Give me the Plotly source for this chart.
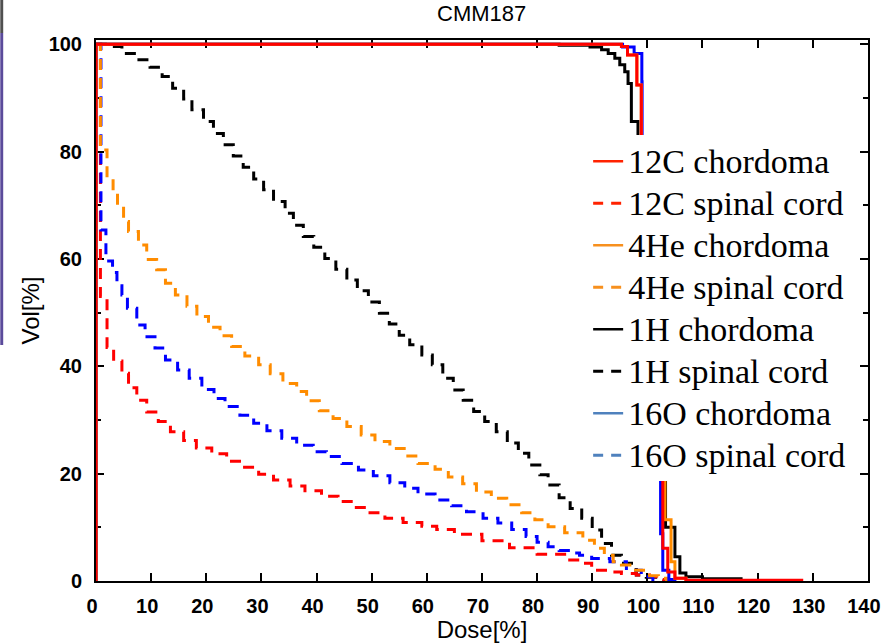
import plotly.graph_objects as go

# ---------------- data ----------------
# 1H spinal cord (black dashed)
dose_1h_sc = [0, 1.7, 4.7, 7.4, 9.8, 12.0, 13.9, 15.9, 17.4, 19.5, 21.3, 23.1, 24.9, 26.7,
              28.6, 30.4, 32.2, 34.3, 35.8, 37.6, 39.5, 41.5, 43.5, 45.5, 47.4, 49.4, 51.4,
              53.2, 55.0, 56.9, 59.1, 61.0, 62.9, 64.8, 66.6, 68.5, 70.5, 72.6, 74.6, 76.6,
              78.5, 80.5, 82.0, 84.0, 86.0, 88.1, 90.0, 91.7, 93.5, 95.3, 98.0, 99.8, 101.5, 103.0]
vol_1h_sc = [100, 99.6, 98.3, 97.1, 95.7, 94.0, 91.8, 89.8, 87.8, 85.6, 83.4, 81.3, 79.2, 77.1,
             74.9, 72.9, 70.7, 68.5, 66.3, 64.2, 62.2, 60.1, 58.1, 56.1, 54.1, 52.0, 49.9,
             47.9, 45.8, 44.0, 42.1, 40.3, 37.8, 35.6, 33.7, 31.6, 29.7, 27.8, 25.7, 23.8,
             21.6, 19.8, 17.9, 15.5, 13.5, 11.7, 9.5, 7.0, 4.8, 3.3, 1.1, 0.7, 0.3, 0]

# 4He spinal cord (orange dashed)
dose_4he_sc = [0, 0.8, 2.0, 3.1, 3.9, 5.0, 5.9, 7.7, 9.2, 11.0, 12.6, 14.4, 16.5, 18.3, 20.4,
               22.5, 24.6, 27.0, 29.5, 31.6, 33.9, 36.4, 38.2, 40.5, 43.0, 45.5, 48.1, 50.6,
               53.3, 55.9, 58.4, 61.5, 63.9, 66.5, 69.0, 71.7, 74.5, 77.2, 79.6, 82.0, 85.0,
               88.3, 90.4, 92.2, 93.8, 95.3, 97.4, 100.4, 102.0, 103.5]
vol_4he_sc = [100, 80.3, 75.5, 72.5, 69.8, 67.0, 65.1, 62.6, 59.9, 58.0, 55.5, 53.3, 51.2, 49.3,
              47.3, 45.7, 43.7, 41.9, 40.3, 38.6, 36.8, 35.3, 33.6, 31.7, 30.3, 28.8, 27.2,
              26.0, 24.7, 23.3, 21.9, 20.8, 19.4, 18.1, 16.6, 15.4, 14.2, 12.7, 11.4, 10.1,
              9.0, 7.6, 6.1, 4.8, 3.6, 3.0, 2.0, 1.0, 0.5, 0]

# 16O spinal cord (blue dashed)
dose_16o_sc = [0, 0.9, 1.8, 3.0, 3.8, 4.7, 5.7, 7.4, 8.9, 10.7, 12.6, 14.8, 16.9, 19.2, 21.4,
               23.4, 26.1, 28.6, 31.0, 33.7, 36.4, 39.4, 41.8, 44.6, 47.6, 50.3, 53.3, 56.0,
               58.4, 61.5, 64.5, 67.2, 70.2, 72.9, 75.4, 78.0, 80.0, 82.0, 84.0, 86.0, 87.7,
               89.9, 93.2, 96.2, 98.9, 101.0, 102.0]
vol_16o_sc = [100, 65.4, 59.6, 57.5, 55.0, 53.3, 50.8, 47.7, 45.5, 43.4, 41.2, 39.3, 37.8, 35.7,
              34.0, 32.5, 30.9, 29.4, 28.0, 26.6, 25.3, 24.1, 23.2, 21.9, 20.7, 19.6, 18.3,
              17.3, 16.2, 15.1, 14.0, 12.9, 11.7, 10.8, 9.6, 8.3, 7.2, 6.4, 5.7, 5.2, 4.8,
              4.2, 3.6, 2.0, 0.8, 0.2, 0]

# 12C spinal cord (red dashed)
dose_12c_sc = [0, 0.8, 2.0, 3.2, 4.7, 5.9, 7.4, 9.2, 11.3, 13.5, 15.9, 18.2, 21.0, 23.7, 26.4,
               29.5, 32.2, 35.2, 37.9, 40.9, 43.9, 46.7, 49.7, 52.4, 55.7, 59.1, 61.8, 65.0,
               70.0, 75.0, 80.0, 85.0, 87.7, 89.9, 92.9, 95.3, 98.0, 100.4, 102.0, 103.0]
vol_12c_sc = [100, 53.0, 43.5, 41.0, 38.7, 36.0, 33.7, 31.5, 29.7, 27.8, 26.2, 24.8, 23.7, 22.3,
              21.2, 19.9, 18.8, 17.7, 16.8, 15.8, 14.8, 13.7, 12.7, 11.7, 10.9, 10.2, 9.6, 8.7,
              7.5, 6.2, 5.0, 3.9, 3.3, 2.0, 1.7, 1.4, 1.1, 0.8, 0.3, 0]

# 1H chordoma (black solid)
dose_1h_ch = [0, 0, 84.0, 89.6, 91.7, 92.9, 94.1, 95.0, 95.9, 96.5, 97.1, 98.3, 99.5, 101.0,
              102.5, 103.3, 105.0, 105.9, 107.0, 110.0, 117.0]
vol_1h_ch = [0, 100, 99.8, 99.5, 99.0, 98.3, 97.4, 96.2, 94.9, 92.7, 85.6, 60.0, 40.0, 30.0,
             22.0, 10.0, 4.5, 1.5, 0.8, 0.4, 0]

# 4He chordoma (orange solid)
dose_4he_ch = [0, 0, 95.3, 96.4, 98.1, 98.9, 100.0, 101.0, 102.0, 103.2, 104.3, 105.0, 107.0]
vol_4he_ch = [0, 100, 99.6, 98.0, 92.4, 70.0, 45.0, 30.0, 22.0, 11.4, 3.6, 0.5, 0]

# 16O chordoma (blue solid)
dose_16o_ch = [0, 0, 95.5, 97.6, 99.0, 99.05, 100.5, 101.5, 102.4, 102.8, 103.9, 105.0]
vol_16o_ch = [0, 100, 99.5, 98.3, 93.0, 70.0, 45.0, 28.0, 8.8, 2.0, 0.3, 0]

# 12C chordoma (red solid)
dose_12c_ch = [0, 0, 95.3, 96.4, 98.1, 98.9, 100.0, 101.0, 102.0, 102.8, 103.7, 105.0, 107.0, 128.0]
vol_12c_ch = [0, 100, 99.6, 98.0, 92.4, 70.0, 50.0, 35.0, 24.0, 6.1, 1.7, 0.5, 0.15, 0]

legend_names = ["12C chordoma", "12C spinal cord", "4He chordoma", "4He spinal cord",
                "1H chordoma", "1H spinal cord", "16O chordoma", "16O spinal cord"]
legend_colors = ["#ff2200", "#ff2200", "#f7901e", "#f7901e",
                 "#000000", "#000000", "#4f81bd", "#4f81bd"]
legend_dashes = ["solid", "10px,8px", "solid", "10px,8px",
                 "solid", "10px,8px", "solid", "10px,8px"]

x_ticks = list(range(0, 141, 10))
y_ticks = list(range(0, 101, 20))

# ---------------- figure ----------------
fig = go.Figure()
DASH = "11px,8px"

def add(x, y, color, dash):
    fig.add_trace(go.Scatter(x=x, y=y, mode="lines", showlegend=False, hoverinfo="skip",
                             line=dict(color=color, width=3, dash=dash, shape="hv")))

add(dose_1h_sc, vol_1h_sc, "#000000", DASH)
add(dose_12c_sc, vol_12c_sc, "#ff0000", DASH)
add(dose_16o_sc, vol_16o_sc, "#0000ff", DASH)
add(dose_4he_sc, vol_4he_sc, "#ff8c00", DASH)
add(dose_1h_ch, vol_1h_ch, "#000000", "solid")
add(dose_16o_ch, vol_16o_ch, "#0000ff", "solid")
add(dose_4he_ch, vol_4he_ch, "#ff8c00", "solid")
add(dose_12c_ch, vol_12c_ch, "#ff0000", "solid")

for n, c, d in zip(legend_names, legend_colors, legend_dashes):
    fig.add_trace(go.Scatter(x=[None], y=[None], mode="lines",
                             name='<span style="font-size:34px">' + n + "</span>",
                             line=dict(color=c, width=3 if d != "solid" else 2.5, dash=d)))

tickfont = dict(family="Liberation Sans Narrow, Liberation Sans, Arial", size=20,
                color="black", weight="bold")
axis_common = dict(showline=True, linecolor="black", linewidth=2, mirror="allticks",
                   ticks="inside", ticklen=8, tickwidth=2, tickcolor="black",
                   showgrid=False, zeroline=False, tickfont=tickfont, layer="below traces",
                   automargin=False, ticklabeloverflow="allow")

fig.update_layout(
    width=883, height=643,
    margin=dict(l=96, r=15, t=40, b=62),
    paper_bgcolor="white", plot_bgcolor="white",
    title=dict(text="CMM187", x=0.5455, xanchor="center", y=1 - 13 / 643, yanchor="middle",
               automargin=False,
               font=dict(family="Liberation Sans, Arial", size=22, color="black")),
    xaxis=dict(range=[0, 140.02], tickvals=x_ticks, ticktext=[str(v) for v in x_ticks],
               ticklabelstandoff=6, ticklabelshift=-4,
               title=dict(text="Dose[%]", standoff=6,
                          font=dict(family="Liberation Sans, Arial", size=24, color="black")),
               **axis_common),
    yaxis=dict(range=[0, 100.8], tickvals=y_ticks, ticktext=[str(v) for v in y_ticks],
               ticklabelstandoff=8,
               minor=dict(dtick=10, tick0=0, ticks="inside", ticklen=5, tickwidth=2,
                          tickcolor="black", showgrid=False),
               title=dict(text="Vol[%]", standoff=2,
                          font=dict(family="Liberation Sans, Arial", size=24, color="black")),
               **axis_common),
    legend=dict(x=0.6375, y=0.824, xanchor="left", yanchor="top", bgcolor="white",
                borderwidth=0, itemwidth=30, traceorder="normal",
                font=dict(family="Liberation Serif, Times New Roman, serif", size=30,
                          color="black")),
    shapes=[
        dict(type="rect", xref="paper", yref="paper", x0=-0.124, x1=-0.1202,
             y0=(581 - 33) / 541, y1=581 / 541, fillcolor="#505050", line=dict(width=0)),
        dict(type="rect", xref="paper", yref="paper", x0=-0.124, x1=-0.1202,
             y0=(581 - 345) / 541, y1=(581 - 33) / 541, fillcolor="#5b4b9b",
             line=dict(width=0)),
    ],
)

fig.write_html("out.html")
